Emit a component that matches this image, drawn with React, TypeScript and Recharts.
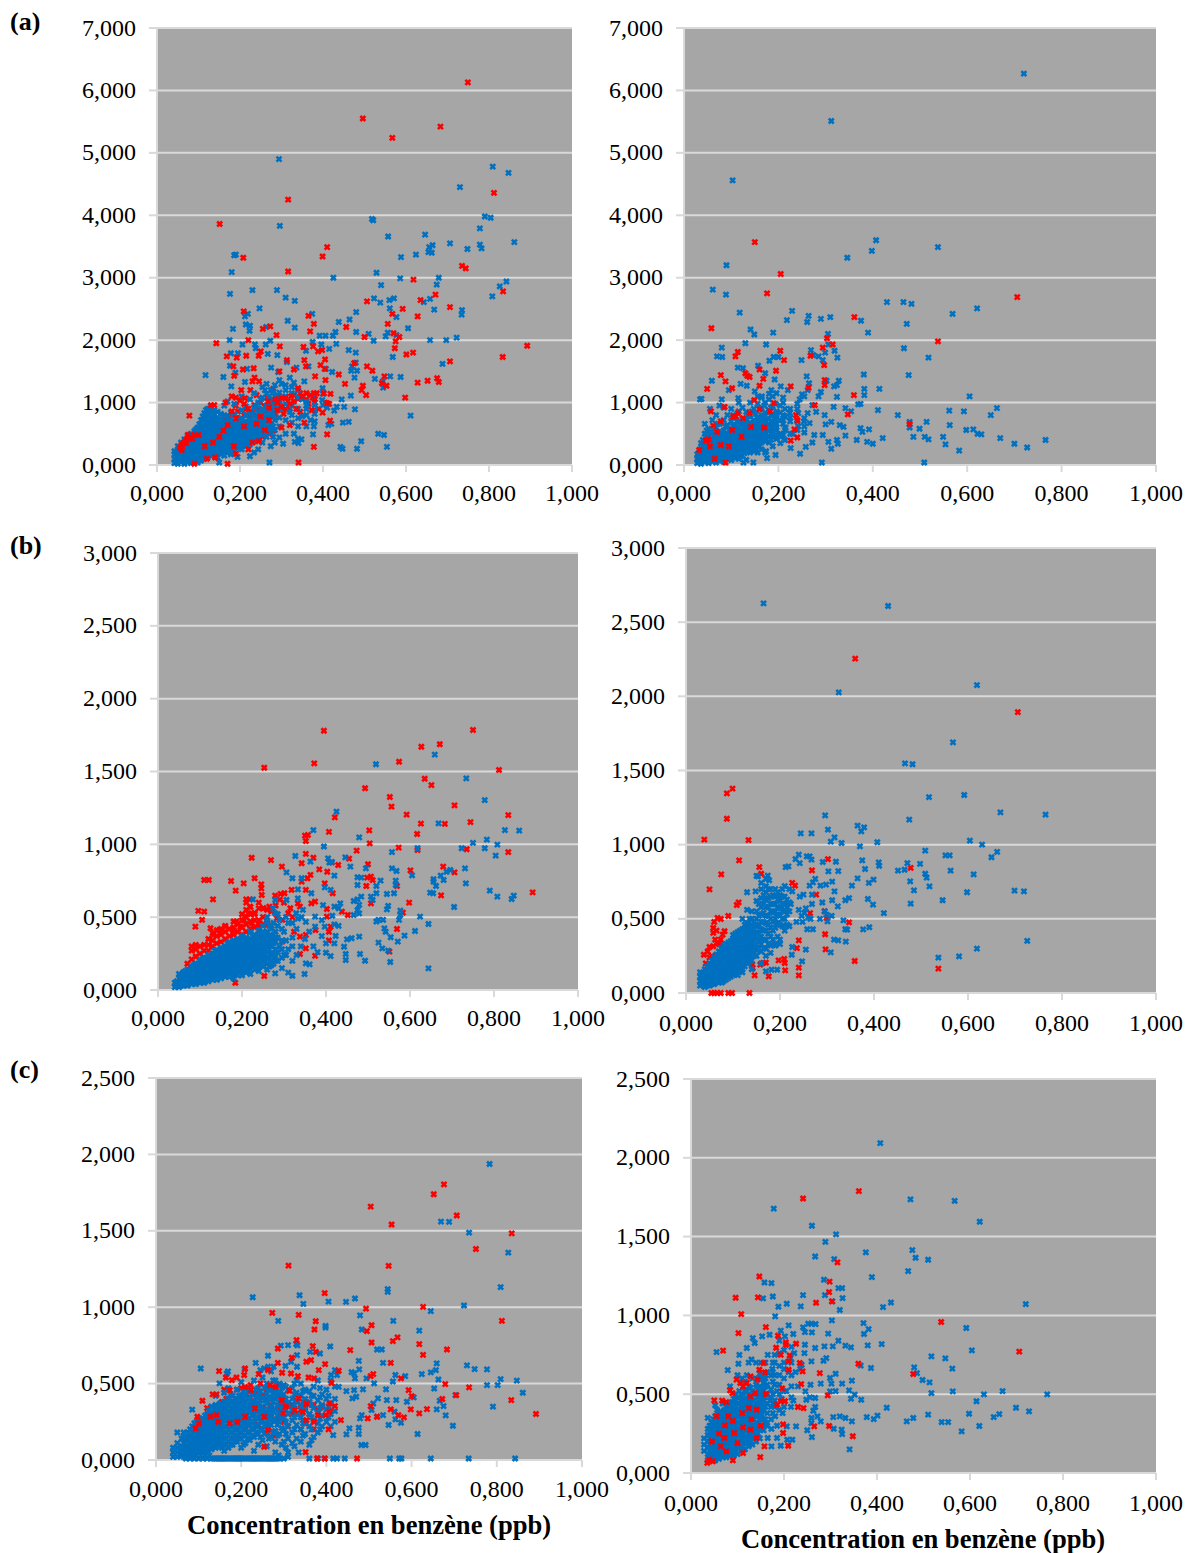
import { ScatterChart, Scatter, XAxis, YAxis, CartesianGrid } from 'recharts';

type Pt = [number, number];
type Col = [number, number[]];

const xTicks = [0, 0.2, 0.4, 0.6, 0.8, 1];
const yTicksA = [0, 1, 2, 3, 4, 5, 6, 7];
const yTicksB = [0, 0.5, 1, 1.5, 2, 2.5, 3];
const yTicksC = [0, 0.5, 1, 1.5, 2, 2.5];
const axisTitle = 'Concentration en benzène (ppb)';

// (a) gauche
const aLeftBlue: Pt[] = [[.294,4.9],[.809,4.78],[.847,4.68],[.73,4.45],[.79,3.98],[.804,3.96],[.518,3.94],[.521,3.92],[.296,3.83],[.778,3.79],[.646,3.69],[.557,3.66],[.861,3.57],[.706,3.55],[.664,3.52],[.656,3.49],[.778,3.53],[.748,3.46],[.782,3.47],[.654,3.41],[.662,3.4],[.624,3.37],[.588,3.33],[.186,3.36],[.19,3.37],[.18,3.09],[.529,3.08],[.425,3],[.586,2.99],[.679,3],[.842,2.94],[.674,2.89],[.54,2.88],[.826,2.86],[.23,2.8],[.289,2.8],[.176,2.74],[.31,2.68],[.808,2.7],[.523,2.67],[.571,2.67],[.56,2.64],[.658,2.66],[.643,2.61],[.332,2.63],[.538,2.6],[.561,2.51],[.247,2.51],[.668,2.49],[.735,2.48],[.48,2.45],[.734,2.41],[.374,2.42],[.219,2.42],[.212,2.38],[.577,2.37],[.464,2.33],[.315,2.31],[.438,2.29],[.214,2.25],[.224,2.23],[.263,2.21],[.332,2.2],[.605,2.19],[.183,2.18],[.223,2.15],[.43,2.13],[.48,2.13],[.556,2.12],[.51,2.1],[.392,2.07],[.406,2.07],[.424,2.07],[.551,2.06],[.577,2.08],[.522,1.99],[.658,2],[.697,2],[.722,2.04],[.175,2],[.273,1.99],[.206,1.93],[.236,1.93],[.262,1.93],[.432,1.94],[.375,1.97],[.415,1.86],[.238,1.87],[.396,1.93],[.462,1.84],[.359,1.83],[.479,1.8],[.178,1.79],[.195,1.79],[.267,1.78],[.29,1.76],[.568,1.73],[.688,1.62],[.479,1.64],[.47,1.58],[.313,1.65],[.176,1.59],[.365,1.58],[.336,1.56],[.275,1.56],[.407,1.54],[.217,1.54],[.482,1.51],[.468,1.51],[.189,1.48],[.422,1.49],[.117,1.44],[.476,1.4],[.587,1.41],[.562,1.42],[.16,1.41],[.292,1.49],[.212,1.33],[.525,1.38],[.355,1.34],[.544,1.34],[.545,1.24],[.399,1.23],[.179,1.26],[.467,1.11],[.398,1.04],[.445,1.05],[.477,.89],[.451,.93],[.427,.87],[.433,.93],[.611,.79],[.462,.69],[.448,.68],[.413,.64],[.42,.66],[.378,.62],[.376,.49],[.492,.38],[.533,.5],[.547,.48],[.554,.29],[.482,.26],[.442,.29],[.447,.26],[.348,.41],[.332,.37],[.341,.35],[.304,.34],[.271,.04],[.15,.04],[.36,.95],[.38,.88],[.35,.78],[.37,.72],[.34,.62],[.33,.5],[.32,.85],[.31,1.2],[.33,1.32],[.3,1.3],[.32,1.4],[.29,1.12],[.35,1.05],[.41,.92]];
const aLeftBlueCore: Col[] = [[.042,[.03,.1,.17,.22]],[.05,[.02,.09,.16,.24,.3]],[.058,[.05,.13,.21,.3,.36]],[.066,[.02,.1,.18,.26,.34,.41]],[.074,[.05,.13,.21,.29,.37,.45]],[.082,[.03,.11,.19,.27,.35,.43,.5]],[.09,[.06,.14,.22,.3,.38,.46,.54]],[.098,[.04,.12,.2,.28,.36,.44,.52,.6]],[.106,[.07,.15,.23,.31,.39,.47,.55,.63,.72]],[.114,[.1,.18,.26,.34,.42,.5,.58,.66,.74,.83]],[.122,[.12,.2,.28,.36,.44,.52,.6,.68,.76,.84,.9]],[.13,[.15,.23,.31,.39,.47,.55,.63,.71,.79,.87,.94]],[.138,[.17,.25,.33,.41,.49,.57,.65,.73,.81,.88]],[.146,[.12,.2,.28,.36,.44,.52,.6,.68,.76,.85]],[.154,[.18,.26,.34,.42,.5,.58,.66,.74,.82]],[.162,[.15,.23,.31,.39,.47,.55,.63,.71,.8,.95]],[.17,[.2,.28,.36,.44,.52,.6,.68,.78,1.02]],[.178,[.17,.25,.33,.41,.49,.57,.65,.74,.84]],[.186,[.22,.3,.38,.46,.54,.62,.7,.82,.98]],[.194,[.13,.27,.35,.43,.51,.59,.67,.76]],[.204,[.25,.33,.41,.49,.57,.65,.74,.88,1.1]],[.214,[.3,.38,.46,.54,.62,.7,.8,.94]],[.224,[.14,.33,.41,.49,.57,.65,.73,.85,1.05]],[.234,[.2,.38,.46,.54,.62,.7,.78,.92,1.15]],[.244,[.25,.42,.5,.58,.66,.74,.84,1]],[.254,[.36,.52,.6,.68,.76,.9,1.08,1.25]],[.264,[.45,.6,.7,.8,.95,1.14,1.3]],[.274,[.3,.52,.64,.78,.88,1.02,1.2]],[.284,[.36,.56,.72,.86,.98,1.1,1.28]]];
const aLeftBlueFill: Col[] = [[.054,[.06,.14,.22,.28]],[.062,[.09,.17,.25,.33]],[.07,[.06,.14,.22,.3,.38]],[.078,[.09,.17,.25,.33,.41,.48]],[.086,[.07,.15,.23,.31,.39,.47]],[.094,[.1,.18,.26,.34,.42,.5,.57]],[.102,[.08,.16,.24,.32,.4,.48,.56,.65]],[.11,[.11,.19,.27,.35,.43,.51,.59,.68,.78]],[.118,[.14,.22,.3,.38,.46,.54,.62,.7,.8,.88]],[.126,[.16,.24,.32,.4,.48,.56,.64,.72,.8,.9]],[.134,[.19,.27,.35,.43,.51,.59,.67,.75,.85]],[.142,[.16,.24,.32,.4,.48,.56,.64,.72]],[.15,[.22,.3,.38,.46,.54,.62,.7]],[.158,[.19,.27,.35,.43,.51,.59,.67]],[.166,[.24,.32,.4,.48,.56,.64]],[.174,[.21,.29,.37,.45,.53,.61,.7]],[.182,[.26,.34,.42,.5,.58,.66]],[.19,[.3,.38,.46,.54,.62]],[.2,[.29,.37,.45,.53,.61,.7]],[.21,[.34,.42,.5,.58,.66]],[.22,[.37,.45,.53,.61,.69]],[.23,[.42,.5,.58,.66,.82]],[.24,[.46,.54,.62,.7,.95]],[.25,[.48,.56,.64,.72,.86,1.05]],[.26,[.52,.66,.75,.88,1.2]],[.27,[.58,.7,.82,.95,1.1]],[.28,[.45,.62,.8,.92,1.05,1.18]],[.295,[.44,.62,.76,.9,1.02,1.16,1.36]],[.31,[.5,.72,.98,1.1,1.28]],[.325,[.68,.8,.95,1.15,1.25]],[.34,[.42,.75,.9,1.08,1.2]],[.36,[.62,.8,.9,1.02]],[.38,[.7,.82,.96,1.1]],[.4,[.96,1.14]]];
const aLeftRed: Pt[] = [[.749,6.13],[.496,5.55],[.683,5.42],[.567,5.24],[.812,4.36],[.316,4.25],[.151,3.86],[.41,3.49],[.399,3.34],[.208,3.32],[.316,3.1],[.735,3.19],[.744,3.15],[.618,2.97],[.834,2.78],[.671,2.73],[.635,2.64],[.506,2.62],[.706,2.53],[.592,2.5],[.567,2.42],[.628,2.38],[.365,2.39],[.209,2.46],[.556,2.26],[.378,2.26],[.369,2.14],[.456,2.21],[.273,2.22],[.255,2.18],[.288,2.08],[.57,2.11],[.584,2.05],[.5,2.05],[.575,1.98],[.22,2],[.143,1.95],[.892,1.91],[.573,1.87],[.617,1.8],[.601,1.77],[.833,1.73],[.706,1.66],[.296,1.9],[.353,1.89],[.376,1.9],[.398,1.84],[.388,1.82],[.675,1.39],[.679,1.33],[.652,1.35],[.628,1.32],[.506,1.58],[.519,1.51],[.548,1.42],[.542,1.31],[.553,1.27],[.496,1.27],[.493,1.2],[.504,1.12],[.598,1.08],[.453,1.3],[.438,1.45],[.475,1.63],[.405,1.69],[.404,1.54],[.406,1.36],[.381,1.42],[.355,1.68],[.313,1.68],[.359,1.58],[.394,1.6],[.33,1.53],[.295,1.5],[.168,1.74],[.192,1.72],[.215,1.75],[.245,1.75],[.25,1.82],[.186,1.43],[.184,1.58],[.233,1.55],[.207,1.53],[.235,1.4],[.23,1.34],[.246,1.34],[.378,1.15],[.36,1.15],[.34,1.23],[.323,1.1],[.309,1.07],[.285,1.05],[.299,.94],[.267,1.02],[.418,1.14],[.402,1.15],[.41,.99],[.399,.84],[.373,.88],[.336,.9],[.212,1.07],[.203,1.2],[.18,1.1],[.165,1],[.078,.79],[.074,.48],[.09,.48],[.1,.48],[.138,.96],[.13,.96],[.07,.35],[.055,.28],[.378,.29],[.41,.49],[.417,.71],[.341,.04],[.37,1.12],[.38,1.06],[.35,1.1],[.33,1.02],[.32,.98],[.3,1.08],[.29,1],[.27,.92],[.25,.78],[.24,.66],[.26,.56],[.22,.9],[.21,.98],[.2,1.03],[.19,1.08],[.18,.86],[.19,.75],[.21,.62],[.23,.36],[.245,.38],[.27,.72],[.29,.88],[.3,.6],[.32,.64],[.355,.68],[.16,.55],[.17,.64],[.15,.45],[.135,.36],[.115,.3],[.12,.1],[.14,.12],[.09,.02],[.19,.18],[.185,.3],[.22,.25],[.085,.42],[.06,.24],[.17,.02],[.06,.33],[.07,.4],[.08,.44],[.065,.36]];
const aLeftRedUnder: Pt[] = [[.26,.86],[.25,1],[.24,1.12],[.225,1.2],[.28,1.22],[.31,.9],[.345,.85],[.19,.95],[.195,.86],[.2,.72],[.21,.8],[.215,.9],[.225,.76],[.23,.84],[.235,.96],[.24,.8],[.245,.9],[.255,.7],[.26,.94],[.265,1.08],[.275,.85],[.28,.96],[.285,.8],[.295,1.05],[.3,.92],[.305,.82],[.315,1.02],[.32,.9],[.33,1.12],[.34,1.06],[.345,1.15],[.36,1.05],[.365,.98],[.375,1.08],[.38,1],[.385,1.15],[.39,.9],[.405,1],[.415,.98],[.2,.5],[.215,.42],[.235,.5],[.255,.45],[.27,.5],[.245,.55],[.28,.55],[.165,.38],[.18,.45],[.14,.22],[.13,.2],[.105,.38],[.12,.4],[.09,.3],[.075,.25],[.2,.62],[.175,.78],[.16,.72],[.15,.62]];

// (a) droite
const aRightBlue: Pt[] = [[.72,6.27],[.312,5.51],[.103,4.56],[.407,3.6],[.538,3.49],[.398,3.43],[.346,3.32],[.09,3.2],[.061,2.81],[.089,2.73],[.43,2.61],[.465,2.61],[.482,2.58],[.621,2.51],[.569,2.42],[.118,2.44],[.229,2.47],[.264,2.39],[.31,2.37],[.29,2.34],[.218,2.32],[.375,2.31],[.261,2.29],[.472,2.26],[.141,2.17],[.149,2.09],[.39,2.12],[.189,2.12],[.305,2.1],[.13,1.95],[.174,1.93],[.306,1.93],[.08,1.88],[.466,1.87],[.269,1.84],[.319,1.83],[.299,1.8],[.07,1.74],[.081,1.73],[.518,1.72],[.325,1.72],[.249,1.68],[.294,1.68],[.274,1.76],[.285,1.74],[.19,1.73],[.181,1.67],[.2,1.73],[.157,1.59],[.114,1.56],[.125,1.55],[.381,1.45],[.476,1.44],[.26,1.42],[.059,1.35],[.172,1.47],[.192,1.37],[.328,1.35],[.324,1.28],[.318,1.26],[.302,1.35],[.265,1.31],[.12,1.3],[.133,1.27],[.382,1.22],[.382,1.12],[.414,1.22],[.605,1.1],[.324,1.09],[.034,1.05],[.037,1.06],[.115,1.07],[.369,.97],[.374,.98],[.411,.88],[.562,.87],[.593,.86],[.663,.91],[.65,.8],[.453,.8],[.317,.93],[.342,.91],[.354,.86],[.478,.69],[.514,.69],[.563,.64],[.499,.58],[.598,.56],[.613,.57],[.392,.57],[.374,.59],[.378,.53],[.478,.6],[.622,.5],[.63,.49],[.549,.45],[.51,.45],[.518,.41],[.486,.45],[.421,.43],[.388,.37],[.4,.34],[.366,.4],[.554,.33],[.67,.43],[.7,.34],[.727,.28],[.766,.4],[.583,.23],[.509,.04],[.292,.04],[.147,.04],[.126,.04],[.338,.61],[.33,.64],[.342,.47],[.324,.4],[.326,.34],[.312,.26],[.306,.37],[.294,.48],[.276,.48],[.272,.36],[.258,.29],[.246,.18],[.226,.27],[.194,.16],[.176,.11],[.174,.22],[.266,.67],[.242,.62],[.254,.7],[.262,.83],[.242,.83],[.224,.83],[.28,.85],[.272,.96],[.25,1.13],[.262,1.2],[.245,1.05],[.285,1.1],[.29,1.17],[.298,.8],[.3,.65],[.312,.69],[.22,1.2],[.205,1.26],[.21,1.08],[.185,1.2],[.165,1.1],[.15,1.18],[.095,1.2],[.08,1.05],[.075,.95],[.055,.9],[.215,.6],[.23,.5],[.205,.45],[.195,.6],[.21,.72]];
const aRightBlueCore: Col[] = [[.028,[.03,.1,.17]],[.036,[.02,.1,.18,.26,.35]],[.044,[.05,.13,.21,.29,.38,.5,.66]],[.052,[.03,.11,.19,.27,.35,.46,.58]],[.06,[.06,.14,.22,.3,.38,.5,.72]],[.068,[.04,.12,.2,.28,.36,.44,.6,.8]],[.076,[.07,.15,.23,.31,.39,.48,.66]],[.084,[.05,.13,.21,.29,.37,.45,.55,.72,.92]],[.092,[.1,.18,.26,.34,.42,.5,.64,.8]],[.1,[.08,.16,.24,.32,.4,.48,.57,.7,.9]],[.108,[.12,.2,.28,.36,.44,.52,.62,.78]],[.116,[.1,.18,.26,.34,.42,.5,.58,.7,.86,1]],[.124,[.15,.23,.31,.39,.47,.55,.64,.74,.92]],[.132,[.08,.22,.3,.38,.46,.54,.62,.72,.85]],[.14,[.2,.28,.36,.44,.52,.6,.68,.8,1]],[.148,[.22,.3,.38,.46,.54,.62,.72,.9]],[.156,[.2,.34,.42,.5,.58,.66,.76,.98,1.1]],[.164,[.25,.36,.44,.52,.6,.7,.8,.92,1.08]],[.172,[.2,.38,.46,.54,.62,.72,.84,1]],[.18,[.36,.46,.56,.64,.74,.88,1.05,1.14]],[.188,[.3,.45,.58,.68,.8,.94,1.1]],[.196,[.42,.56,.66,.76,.86,1.15]],[.204,[.35,.5,.72,.84,.95]],[.214,[.4,.56,.78,.9]]];
const aRightBlueFill: Col[] = [[.032,[.06,.13,.2]],[.04,[.06,.14,.22,.3,.4]],[.048,[.07,.15,.23,.31,.42,.55]],[.056,[.07,.15,.23,.31,.39,.52]],[.064,[.08,.16,.24,.32,.42,.55]],[.072,[.08,.16,.24,.32,.4,.5,.66]],[.08,[.1,.18,.26,.34,.42,.52]],[.088,[.09,.17,.25,.33,.41,.5,.62]],[.096,[.14,.22,.3,.38,.46,.56]],[.104,[.12,.2,.28,.36,.44,.52,.62,.8]],[.112,[.15,.24,.32,.4,.48,.56,.7]],[.12,[.14,.22,.3,.38,.46,.54,.66]],[.128,[.19,.27,.35,.43,.51,.58,.68]],[.136,[.24,.32,.4,.48,.56,.66,.78]],[.144,[.26,.34,.42,.5,.58,.66,.86]],[.152,[.26,.38,.46,.54,.62,.7,.82]],[.16,[.3,.4,.48,.56,.64,.74,.9]],[.17,[.42,.5,.58,.68,.78,.95]],[.184,[.4,.5,.6,.7,.8,.92]],[.194,[.48,.62,.72,.82,.98]],[.21,[.48,.66,.8,1]],[.225,[.5,.7,.76,.9]],[.24,[.56,.7,.9,.98]],[.255,[.52,.62,.75,1.1]]];
const aRightRed: Pt[] = [[.15,3.57],[.205,3.06],[.176,2.75],[.706,2.69],[.361,2.37],[.058,2.19],[.538,1.98],[.303,2.03],[.315,1.93],[.294,1.88],[.204,1.83],[.114,1.81],[.109,1.74],[.268,1.75],[.212,1.68],[.297,1.6],[.16,1.53],[.195,1.51],[.078,1.44],[.13,1.47],[.134,1.43],[.139,1.41],[.168,1.38],[.088,1.34],[.298,1.36],[.298,1.28],[.049,1.22],[.16,1.27],[.226,1.26],[.102,1.23],[.264,1.24],[.36,1.12],[.277,.96],[.149,1.04],[.347,.81],[.237,.8],[.24,.72],[.478,.66],[.234,.57],[.24,.44],[.226,.39],[.057,.86],[.062,.63],[.086,.93],[.104,.77],[.114,.83],[.16,.89],[.139,.83],[.046,.39],[.052,.41],[.032,.24],[.07,.53],[.078,.32],[.088,.04],[.102,.56],[.122,.45],[.142,.61],[.182,.86],[.19,.99],[.065,.1],[.11,.78],[.125,.75],[.17,.6],[.095,.3],[.055,.3],[.078,.7]];

// (b) gauche
const bLeftBlue: Pt[] = [[.659,1.616],[.519,1.55],[.734,1.453],[.778,1.303],[.425,1.225],[.668,1.144],[.826,1.098],[.86,1.094],[.37,1.098],[.479,1.048],[.783,1.032],[.75,1.01],[.808,.998],[.618,.973],[.723,.973],[.778,.973],[.395,.985],[.557,.947],[.804,.922],[.327,.92],[.446,.911],[.405,.904],[.408,.875],[.414,.88],[.363,.881],[.458,.847],[.495,.835],[.557,.835],[.568,.817],[.731,.835],[.696,.824],[.687,.812],[.306,.808],[.605,.787],[.673,.785],[.68,.755],[.42,.785],[.475,.774],[.484,.771],[.656,.76],[.656,.744],[.53,.751],[.342,.767],[.32,.767],[.566,.751],[.566,.721],[.733,.732],[.475,.721],[.662,.714],[.79,.682],[.52,.714],[.52,.664],[.648,.668],[.655,.664],[.562,.664],[.545,.659],[.333,.691],[.365,.664],[.397,.705],[.411,.687],[.808,.641],[.847,.648],[.842,.625],[.484,.641],[.507,.641],[.511,.618],[.475,.622],[.466,.611],[.333,.629],[.306,.618],[.279,.618],[.226,.622],[.434,.595],[.42,.572],[.393,.583],[.548,.577],[.545,.554],[.479,.584],[.475,.549],[.705,.57],[.577,.545],[.577,.515],[.574,.481],[.479,.526],[.466,.515],[.624,.504],[.274,.561],[.279,.527],[.329,.527],[.333,.49],[.342,.5],[.352,.468],[.374,.504],[.374,.435],[.397,.435],[.525,.481],[.536,.481],[.52,.47],[.644,.453],[.539,.423],[.542,.4],[.612,.405],[.554,.362],[.587,.373],[.571,.332],[.525,.325],[.534,.286],[.548,.27],[.479,.366],[.461,.355],[.45,.348],[.423,.371],[.42,.32],[.443,.297],[.447,.247],[.447,.206],[.481,.247],[.493,.201],[.553,.192],[.644,.149],[.411,.233],[.4,.256],[.4,.32],[.352,.183],[.361,.176],[.349,.11],[.31,.119],[.32,.098],[.279,.114],[.42,.45],[.43,.44],[.415,.51],[.43,.56],[.36,.4],[.35,.35],[.37,.3],[.39,.37],[.38,.26],[.34,.3],[.33,.42],[.32,.36],[.31,.46],[.3,.4],[.29,.48],[.31,.28],[.3,.24],[.33,.24],[.28,.2],[.27,.17],[.26,.14],[.29,.3],[.28,.36],[.27,.44],[.26,.5],[.345,.55],[.39,.48]];
const bLeftBlueCore: Col[] = [[.04,[.02,.05]],[.05,[.02,.05,.08,.11]],[.06,[.03,.06,.09,.12]],[.07,[.03,.06,.09,.12,.14]],[.08,[.04,.07,.1,.13,.16]],[.09,[.04,.07,.1,.13,.16,.18]],[.1,[.05,.08,.11,.14,.17,.2]],[.11,[.05,.08,.11,.14,.17,.2,.22]],[.12,[.06,.09,.12,.15,.18,.21,.24]],[.13,[.07,.1,.13,.16,.19,.22,.25]],[.14,[.07,.1,.13,.16,.19,.22,.25,.27]],[.15,[.08,.11,.14,.17,.2,.23,.26,.29]],[.16,[.09,.12,.15,.18,.21,.24,.27,.3]],[.17,[.09,.12,.15,.18,.21,.24,.27,.3,.33]],[.18,[.08,.11,.14,.17,.2,.23,.26,.29,.32,.34]],[.19,[.1,.13,.16,.19,.22,.25,.28,.31,.35]],[.2,[.1,.13,.16,.19,.22,.25,.28,.31,.34,.37]],[.21,[.12,.15,.18,.21,.24,.27,.3,.33,.36]],[.22,[.11,.14,.17,.2,.23,.26,.29,.32,.35,.4]],[.23,[.14,.17,.2,.23,.26,.29,.32,.35,.38]],[.24,[.13,.16,.19,.22,.25,.28,.31,.34,.37,.41]],[.25,[.16,.2,.24,.28,.32,.36,.4,.44]],[.26,[.18,.22,.26,.31,.35,.4,.47]],[.27,[.2,.25,.3,.35,.42]],[.28,[.23,.28,.33,.4]]];
const bLeftBlueFill: Col[] = [[.045,[.03,.06]],[.055,[.03,.06,.09]],[.065,[.04,.07,.1,.13]],[.075,[.05,.08,.11,.14]],[.085,[.05,.08,.11,.14,.17]],[.095,[.06,.09,.12,.15,.18]],[.105,[.06,.09,.12,.15,.18,.21]],[.115,[.07,.1,.13,.16,.19,.22]],[.125,[.08,.11,.14,.17,.2,.23]],[.135,[.09,.12,.15,.18,.21,.24,.27]],[.145,[.09,.12,.15,.18,.21,.24,.27]],[.155,[.1,.13,.16,.19,.22,.25,.28]],[.165,[.11,.14,.17,.2,.23,.26,.29,.32]],[.175,[.1,.13,.16,.19,.22,.25,.28,.31]],[.185,[.12,.15,.18,.21,.24,.27,.3,.33]],[.195,[.12,.15,.18,.21,.24,.27,.3,.33]],[.205,[.14,.17,.2,.23,.26,.29,.32,.35]],[.215,[.13,.16,.19,.22,.25,.28,.31,.34]],[.225,[.16,.19,.22,.25,.28,.31,.34,.37]],[.235,[.15,.18,.21,.24,.27,.3,.33,.36]],[.245,[.18,.21,.24,.27,.3,.33,.38]],[.255,[.2,.24,.28,.32,.38]],[.265,[.16,.22,.28,.33,.37,.44]],[.275,[.18,.24,.32,.38,.46]],[.285,[.2,.26,.36,.44,.52]],[.295,[.15,.22,.28,.34,.42]],[.305,[.24,.34,.5]],[.32,[.2,.3,.46]]];
const bLeftRed: Pt[] = [[.75,1.785],[.395,1.78],[.671,1.687],[.627,1.67],[.574,1.567],[.372,1.556],[.812,1.51],[.253,1.526],[.635,1.45],[.651,1.407],[.493,1.385],[.552,1.325],[.556,1.259],[.706,1.268],[.592,1.204],[.834,1.201],[.421,1.185],[.744,1.153],[.626,1.142],[.683,1.14],[.503,1.096],[.407,1.085],[.357,1.064],[.35,1.06],[.352,1.023],[.617,1.071],[.504,1.007],[.573,.977],[.618,.961],[.735,.966],[.834,.947],[.473,.957],[.223,.908],[.269,.892],[.352,.934],[.37,.908],[.414,.876],[.429,.858],[.455,.902],[.5,.863],[.295,.847],[.384,.828],[.679,.847],[.601,.821],[.706,.808],[.342,.87],[.403,.812],[.498,.771],[.507,.778],[.511,.755],[.174,.748],[.11,.755],[.121,.755],[.23,.767],[.204,.732],[.397,.732],[.363,.79],[.356,.767],[.342,.744],[.246,.725],[.246,.698],[.496,.714],[.569,.714],[.416,.664],[.892,.67],[.674,.65],[.185,.682],[.247,.652],[.279,.648],[.292,.66],[.301,.664],[.318,.687],[.131,.622],[.21,.622],[.219,.622],[.598,.6],[.352,.687],[.374,.607],[.365,.595],[.507,.595],[.096,.543],[.11,.538],[.105,.481],[.089,.435],[.219,.572],[.215,.527],[.251,.561],[.265,.572],[.315,.561],[.31,.527],[.338,.572],[.333,.595],[.402,.556],[.402,.504],[.438,.538],[.452,.515],[.583,.531],[.569,.419],[.125,.424],[.132,.378],[.146,.412],[.16,.435],[.178,.412],[.187,.47],[.205,.48],[.196,.435],[.224,.458],[.242,.458],[.26,.451],[.411,.435],[.407,.4],[.375,.412],[.352,.378],[.338,.366],[.324,.4],[.296,.481],[.283,.492],[.296,.332],[.551,.263],[.407,.34],[.352,.286],[.374,.234],[.338,.247],[.253,.096],[.184,.05],[.28,.58],[.29,.62],[.27,.54],[.24,.6],[.23,.52],[.3,.6],[.32,.5]];
const bLeftRedCore: Col[] = [[.07,[.13,.18]],[.08,[.15,.21,.27,.3]],[.09,[.17,.23,.28,.31]],[.1,[.2,.25,.3]],[.11,[.22,.27,.31]],[.12,[.22,.27,.31,.35]],[.13,[.25,.3,.34,.39]],[.14,[.27,.32,.37,.41]],[.15,[.28,.33,.38,.42]],[.16,[.3,.35,.4,.44]],[.17,[.32,.37,.42]],[.18,[.33,.38,.43,.47]],[.19,[.35,.4,.45]],[.2,[.38,.43,.48,.52]],[.21,[.4,.45,.5,.55,.6]],[.22,[.42,.47,.52,.57]],[.23,[.43,.48,.53]],[.24,[.44,.48,.56]],[.25,[.45,.5,.56]],[.26,[.46,.55]]];

// (b) droite
const bRightBlue: Pt[] = [[.165,2.627],[.43,2.609],[.619,2.076],[.325,2.027],[.568,1.69],[.466,1.548],[.482,1.542],[.592,1.335],[.517,1.321],[.669,1.218],[.765,1.202],[.296,1.198],[.475,1.169],[.365,1.128],[.379,1.117],[.373,1.09],[.302,1.101],[.244,1.076],[.267,1.076],[.316,1.049],[.308,1.02],[.331,1.011],[.407,1.016],[.604,1.027],[.63,1],[.37,.989],[.509,.96],[.662,.951],[.552,.928],[.561,.928],[.65,.915],[.24,.933],[.257,.921],[.263,.921],[.233,.903],[.267,.899],[.242,.876],[.291,.883],[.319,.885],[.375,.894],[.41,.881],[.411,.858],[.471,.876],[.498,.87],[.303,.82],[.324,.822],[.381,.836],[.451,.825],[.465,.831],[.509,.804],[.512,.778],[.563,.825],[.612,.8],[.212,.849],[.218,.854],[.174,.791],[.153,.787],[.177,.76],[.16,.742],[.365,.773],[.399,.764],[.389,.742],[.477,.753],[.353,.724],[.518,.719],[.311,.751],[.275,.769],[.298,.731],[.286,.724],[.263,.724],[.27,.746],[.485,.692],[.598,.679],[.699,.69],[.719,.685],[.316,.685],[.226,.685],[.13,.679],[.148,.685],[.268,.663],[.25,.663],[.242,.65],[.387,.634],[.546,.625],[.347,.64],[.339,.625],[.323,.584],[.311,.625],[.398,.596],[.478,.602],[.421,.539],[.29,.61],[.268,.6],[.223,.6],[.335,.49],[.343,.427],[.339,.43],[.377,.429],[.39,.443],[.315,.36],[.324,.355],[.34,.346],[.308,.274],[.301,.483],[.299,.528],[.726,.351],[.619,.299],[.537,.238],[.581,.247],[.255,.292],[.247,.213],[.225,.258],[.226,.31],[.194,.157],[.182,.157],[.17,.146],[.27,.43],[.265,.5],[.258,.43],[.248,.48],[.24,.56],[.246,.52],[.252,.54],[.26,.51],[.255,.57],[.235,.48],[.285,.5],[.295,.55],[.31,.52],[.19,.32],[.2,.33],[.18,.27],[.17,.25],[.16,.2],[.14,.16],[.12,.14],[.11,.12],[.076,.07]];
const bRightBlueCore: Col[] = [[.03,[.05,.08,.11,.14]],[.04,[.04,.07,.1,.13,.16]],[.05,[.05,.08,.11,.14,.17,.2]],[.06,[.06,.09,.12,.15,.18,.21,.24]],[.07,[.07,.1,.13,.16,.19,.22,.25,.28]],[.08,[.08,.11,.14,.17,.2,.23,.26,.29,.32]],[.09,[.1,.13,.16,.19,.22,.25,.28,.31,.34]],[.1,[.12,.15,.18,.21,.24,.27,.3,.33,.36,.39]],[.11,[.14,.17,.2,.23,.26,.29,.32,.35,.38,.41]],[.12,[.16,.19,.22,.25,.28,.31,.34,.37,.4,.43,.5]],[.13,[.2,.23,.26,.29,.32,.35,.38,.41,.44,.47,.56]],[.14,[.22,.25,.28,.31,.34,.37,.4,.43,.46,.5,.55]],[.15,[.25,.29,.33,.37,.41,.45,.5,.55,.62,.79]],[.16,[.28,.33,.38,.43,.48,.53,.58,.64,.7]],[.17,[.3,.36,.42,.47,.52,.58,.63,.68,.72,.77]],[.18,[.32,.38,.44,.5,.55,.6,.65,.7]],[.19,[.33,.44,.5,.55,.6,.65,.7]],[.2,[.36,.46,.52,.57,.62,.66]],[.21,[.42,.5,.56,.6,.65,.72]],[.22,[.45,.55,.61,.7]]];
const bRightBlueFill: Col[] = [[.035,[.06,.09,.12]],[.045,[.05,.08,.11,.14,.18]],[.055,[.06,.09,.12,.15,.18,.22]],[.065,[.08,.11,.14,.17,.2,.23,.26]],[.075,[.09,.12,.15,.18,.21,.24,.27,.3]],[.085,[.09,.12,.15,.18,.21,.24,.27,.3,.33]],[.095,[.11,.14,.17,.2,.23,.26,.29,.32,.35]],[.105,[.13,.16,.19,.22,.25,.28,.31,.34,.37,.4]],[.115,[.15,.18,.21,.24,.27,.3,.33,.36,.39,.42]],[.125,[.18,.21,.24,.27,.3,.33,.36,.39,.42,.46]],[.135,[.21,.24,.27,.3,.33,.36,.39,.42,.45,.5]],[.145,[.25,.29,.33,.37,.41,.45,.48]],[.155,[.3,.35,.4,.46,.52,.6]],[.165,[.3,.36,.42,.48,.54,.6,.66]],[.175,[.33,.4,.46,.52,.58,.64,.7]],[.185,[.36,.42,.48,.54,.6,.66]],[.195,[.38,.47,.53,.58,.63,.68]],[.205,[.45,.5,.55,.6,.65,.7]],[.215,[.46,.53,.58,.63]]];
const bRightRed: Pt[] = [[.36,2.254],[.706,1.894],[.099,1.378],[.087,1.346],[.087,1.175],[.039,1.034],[.133,1.031],[.113,.894],[.302,.903],[.156,.849],[.478,.843],[.16,.804],[.075,.8],[.268,.827],[.226,.742],[.232,.724],[.05,.699],[.277,.663],[.112,.611],[.108,.593],[.09,.519],[.067,.506],[.074,.499],[.295,.551],[.264,.539],[.347,.476],[.299,.506],[.296,.396],[.24,.355],[.297,.294],[.236,.303],[.359,.216],[.537,.164],[.24,.171],[.24,.119],[.197,.22],[.209,.229],[.21,.202],[.211,.153],[.164,.202],[.17,.205],[.158,.191],[.141,.191],[.142,.169],[.146,.119],[.176,.112],[.126,.207],[.114,.169],[.098,.202],[.054,0],[.06,0],[.066,0],[.074,0],[.09,0],[.098,0],[.135,0],[.084,.1],[.094,.124],[.058,.438],[.058,.405],[.062,.36],[.082,.416],[.078,.393],[.05,.31],[.038,.258],[.046,.28],[.058,.315],[.066,.337],[.074,.36],[.06,.48],[.065,.42],[.07,.33],[.055,.25],[.042,.2],[.05,.24]];

// (c) gauche
const cLeftBlue: Pt[] = [[.783,1.937],[.669,1.56],[.688,1.558],[.735,1.488],[.827,1.357],[.809,1.131],[.544,1.118],[.544,1.1],[.337,1.078],[.227,1.065],[.346,1.022],[.405,1.037],[.446,1.035],[.467,1.057],[.723,1.011],[.645,.974],[.479,.946],[.287,.911],[.557,.911],[.398,.878],[.398,.867],[.483,.854],[.618,.847],[.293,.749],[.31,.752],[.329,.758],[.332,.75],[.409,.743],[.519,.723],[.53,.723],[.362,.708],[.385,.697],[.263,.682],[.533,.636],[.659,.632],[.73,.619],[.234,.636],[.331,.686],[.317,.643],[.304,.615],[.331,.61],[.208,.593],[.476,.649],[.477,.593],[.459,.575],[.465,.566],[.467,.534],[.748,.595],[.777,.593],[.657,.588],[.645,.573],[.105,.599],[.166,.566],[.169,.58],[.245,.588],[.254,.6],[.263,.61],[.276,.61],[.562,.556],[.585,.549],[.624,.562],[.663,.527],[.42,.588],[.411,.556],[.425,.556],[.494,.534],[.556,.514],[.512,.501],[.149,.501],[.847,.519],[.809,.529],[.777,.49],[.802,.49],[.653,.468],[.54,.462],[.486,.462],[.429,.479],[.447,.451],[.465,.457],[.47,.414],[.461,.403],[.861,.44],[.703,.425],[.605,.41],[.589,.381],[.521,.403],[.51,.37],[.542,.392],[.564,.392],[.666,.388],[.675,.353],[.659,.331],[.791,.349],[.68,.292],[.697,.224],[.614,.17],[.575,.244],[.562,.266],[.546,.229],[.56,.316],[.533,.294],[.519,.283],[.506,.327],[.483,.294],[.479,.272],[.476,.211],[.476,.17],[.447,.168],[.454,.207],[.416,.163],[.482,.098],[.492,.098],[.396,.01],[.416,.01],[.425,.01],[.443,.01],[.549,.01],[.571,.01],[.576,.01],[.645,.01],[.734,.01],[.843,.01],[.38,.01],[.36,.01],[.335,.05],[.31,.05],[.288,.03],[.085,.33],[.065,.18],[.05,.18]];
const cLeftBlueCore: Col[] = [[.04,[.02,.05,.08]],[.05,[.02,.05,.08,.11]],[.06,[.03,.06,.09,.14]],[.07,[.01,.04,.07,.1,.13,.17]],[.08,[.01,.04,.07,.1,.13,.16,.2]],[.09,[.01,.05,.08,.11,.14,.17,.2,.24]],[.1,[.01,.05,.08,.11,.14,.17,.2,.23,.27]],[.11,[.01,.06,.09,.12,.15,.18,.21,.24,.27]],[.12,[.01,.06,.09,.12,.15,.18,.21,.24,.27,.3]],[.13,[.01,.07,.1,.13,.16,.19,.22,.25,.28,.31,.35]],[.14,[.01,.08,.11,.14,.17,.2,.23,.26,.29,.32,.36,.42]],[.15,[.01,.09,.12,.15,.18,.21,.24,.27,.3,.33,.37]],[.16,[.01,.06,.1,.14,.18,.22,.26,.3,.34,.38,.44]],[.17,[.01,.08,.12,.16,.2,.24,.28,.32,.36,.4,.47]],[.18,[.01,.1,.14,.18,.22,.26,.3,.34,.38,.42]],[.19,[.01,.12,.16,.2,.24,.28,.32,.36,.4,.46]],[.2,[.01,.08,.14,.18,.22,.26,.3,.34,.38,.42,.51]],[.21,[.01,.11,.16,.2,.25,.3,.34,.38,.42]],[.22,[.01,.13,.18,.23,.27,.31,.35,.4,.46]],[.23,[.01,.06,.15,.2,.25,.3,.34,.38,.44,.52]],[.24,[.01,.1,.17,.22,.27,.32,.36,.42,.47]],[.25,[.01,.13,.2,.26,.31,.35,.41,.54]],[.26,[.01,.09,.18,.24,.3,.37,.43,.5]],[.27,[.01,.15,.23,.29,.35,.41,.47,.58]],[.28,[.01,.05,.12,.19,.26,.33,.4,.46,.52]],[.29,[.01,.17,.25,.31,.38,.44,.5]],[.3,[.01,.12,.2,.28,.36,.43,.49]],[.31,[.02,.14,.22,.3,.37,.46]],[.32,[.11,.18,.26,.33,.4,.47]],[.33,[.14,.23,.3,.38,.44,.52]],[.34,[.12,.2,.28,.35,.42,.5]],[.35,[.17,.25,.33,.4,.46]],[.36,[.1,.22,.3,.38,.45]],[.37,[.15,.26,.34,.42,.48]],[.38,[.18,.24,.31,.39,.52]],[.39,[.22,.29,.36,.43]],[.4,[.25,.33,.4,.46]],[.41,[.22,.3,.37,.52]],[.42,[.25,.32,.4,.48]]];
const cLeftBlueFill: Col[] = [[.065,[.02,.05,.08,.11,.15]],[.075,[.02,.05,.08,.11,.14,.18]],[.085,[.02,.06,.09,.12,.15,.18,.22]],[.095,[.03,.06,.09,.12,.15,.18,.22,.25]],[.105,[.03,.07,.1,.13,.16,.19,.22,.25]],[.115,[.03,.07,.1,.13,.16,.19,.22,.25,.29]],[.125,[.03,.08,.11,.14,.17,.2,.23,.26,.29,.33]],[.135,[.01,.09,.12,.15,.18,.21,.24,.27,.3,.33]],[.145,[.01,.1,.13,.16,.19,.22,.25,.28,.31,.35]],[.155,[.01,.08,.12,.16,.2,.24,.28,.32,.36]],[.165,[.01,.1,.14,.18,.22,.26,.3,.34,.38]],[.175,[.01,.1,.14,.18,.22,.26,.3,.34,.38,.43]],[.185,[.01,.12,.16,.2,.24,.28,.32,.36,.4]],[.195,[.01,.14,.18,.22,.26,.3,.34,.38,.42]],[.205,[.01,.1,.16,.2,.24,.28,.32,.36,.4,.45]],[.215,[.01,.14,.18,.23,.27,.32,.36,.4,.45]],[.225,[.01,.16,.21,.25,.29,.33,.38,.43]],[.235,[.01,.18,.23,.28,.32,.36,.41,.46]],[.245,[.01,.15,.2,.25,.3,.34,.39,.45]],[.255,[.01,.17,.23,.28,.33,.39,.47]],[.265,[.01,.14,.21,.27,.33,.4,.46]],[.275,[.01,.18,.26,.32,.38,.44,.52]],[.285,[.01,.16,.23,.29,.36,.43,.49]],[.295,[.1,.21,.28,.34,.41,.47]],[.305,[.08,.17,.25,.33,.4,.48]],[.325,[.09,.2,.28,.36,.43,.5]],[.345,[.16,.24,.31,.38,.45]],[.365,[.13,.2,.28,.36,.42]],[.385,[.2,.27,.34,.41,.47]],[.405,[.28,.35,.42]]];
const cLeftRed: Pt[] = [[.676,1.804],[.652,1.739],[.504,1.658],[.706,1.6],[.553,1.541],[.835,1.483],[.751,1.381],[.311,1.272],[.546,1.27],[.396,1.092],[.627,1.002],[.493,.991],[.273,.963],[.335,.95],[.812,.911],[.375,.908],[.506,.882],[.372,.854],[.495,.843],[.567,.802],[.556,.778],[.506,.769],[.618,.758],[.33,.784],[.368,.745],[.286,.73],[.456,.719],[.683,.723],[.375,.708],[.627,.688],[.319,.669],[.364,.654],[.353,.643],[.397,.627],[.551,.636],[.286,.636],[.382,.588],[.429,.584],[.209,.599],[.148,.582],[.263,.588],[.241,.562],[.333,.549],[.317,.566],[.296,.571],[.504,.549],[.51,.562],[.575,.534],[.358,.54],[.371,.534],[.412,.505],[.679,.497],[.735,.475],[.593,.457],[.6,.418],[.705,.425],[.672,.399],[.834,.392],[.892,.301],[.636,.333],[.618,.305],[.598,.331],[.582,.279],[.569,.294],[.551,.331],[.504,.353],[.497,.272],[.519,.283],[.109,.388],[.133,.429],[.142,.429],[.164,.54],[.178,.523],[.189,.54],[.207,.556],[.173,.457],[.209,.479],[.223,.457],[.245,.501],[.268,.49],[.281,.479],[.313,.453],[.42,.353],[.407,.37],[.398,.294],[.407,.316],[.38,.294],[.371,.25],[.353,.37],[.344,.316],[.335,.403],[.326,.327],[.304,.349],[.295,.392],[.299,.305],[.353,.261],[.434,.261],[.405,.2],[.351,.052],[.378,.01],[.396,.01],[.472,.01],[.097,.283],[.101,.24],[.093,.207],[.128,.283],[.142,.294],[.146,.25],[.173,.24],[.191,.25],[.209,.283],[.232,.338],[.254,.283],[.263,.196],[.254,.087]];
const cLeftRedUnder: Pt[] = [[.155,.38],[.165,.4],[.2,.47],[.215,.47],[.222,.49],[.235,.37],[.25,.34],[.27,.3],[.285,.27],[.32,.36],[.33,.3],[.34,.36],[.345,.26],[.36,.3],[.37,.36],[.34,.2],[.31,.22],[.295,.35],[.15,.3],[.12,.34],[.11,.27],[.09,.17],[.21,.2],[.24,.23],[.19,.16],[.16,.46],[.19,.46],[.2,.4],[.22,.41],[.24,.45],[.26,.46],[.28,.44],[.29,.42],[.3,.38],[.31,.35],[.32,.3],[.34,.33],[.35,.34],[.36,.38],[.38,.33],[.39,.35],[.41,.32],[.33,.39],[.29,.33],[.27,.36],[.25,.42],[.23,.3],[.21,.3],[.2,.26],[.18,.3],[.16,.28],[.14,.34],[.13,.27],[.12,.22],[.11,.2],[.1,.22],[.35,.24],[.37,.2],[.3,.25],[.28,.16]];

// (c) droite
const cRightBlue: Pt[] = [[.407,2.093],[.472,1.736],[.567,1.727],[.178,1.677],[.621,1.594],[.26,1.569],[.312,1.514],[.289,1.467],[.476,1.414],[.376,1.4],[.267,1.374],[.483,1.366],[.51,1.353],[.308,1.357],[.467,1.281],[.389,1.243],[.286,1.226],[.158,1.209],[.173,1.205],[.317,1.173],[.325,1.173],[.72,1.072],[.43,1.082],[.241,1.129],[.288,1.129],[.176,1.12],[.155,1.108],[.326,1.11],[.304,1.089],[.206,1.074],[.188,1.055],[.236,1.057],[.413,1.053],[.32,1.034],[.181,.994],[.303,.968],[.371,.951],[.592,.92],[.382,.913],[.372,.882],[.252,.947],[.259,.947],[.268,.945],[.241,.924],[.26,.892],[.245,.894],[.21,.937],[.22,.882],[.193,.903],[.202,.867],[.295,.884],[.133,.856],[.153,.867],[.169,.877],[.137,.825],[.12,.793],[.317,.839],[.41,.818],[.38,.81],[.332,.808],[.344,.797],[.245,.814],[.267,.793],[.287,.803],[.305,.803],[.604,.778],[.244,.761],[.222,.761],[.214,.729],[.055,.767],[.104,.75],[.517,.74],[.547,.727],[.291,.729],[.285,.712],[.259,.708],[.238,.687],[.365,.681],[.387,.666],[.48,.67],[.562,.662],[.486,.634],[.102,.693],[.079,.653],[.498,.59],[.513,.575],[.346,.586],[.325,.567],[.311,.63],[.299,.603],[.302,.567],[.279,.567],[.257,.56],[.34,.524],[.311,.52],[.299,.518],[.517,.507],[.563,.518],[.63,.499],[.67,.52],[.766,.499],[.352,.497],[.344,.471],[.366,.465],[.614,.455],[.246,.518],[.248,.465],[.267,.476],[.256,.48],[.699,.414],[.421,.414],[.267,.419],[.263,.395],[.727,.391],[.598,.376],[.663,.374],[.651,.355],[.51,.37],[.401,.364],[.378,.355],[.393,.342],[.478,.349],[.464,.328],[.539,.323],[.553,.323],[.346,.328],[.332,.349],[.32,.359],[.306,.355],[.279,.328],[.259,.349],[.272,.359],[.259,.317],[.62,.298],[.226,.296],[.206,.296],[.582,.264],[.307,.281],[.324,.275],[.325,.247],[.25,.271],[.26,.228],[.341,.15],[.218,.211],[.193,.173],[.207,.211],[.185,.222],[.173,.169],[.165,.222],[.197,.38],[.181,.36],[.185,.3],[.173,.28],[.161,.31],[.22,.46],[.23,.55],[.21,.64],[.2,.7],[.19,.62],[.185,.52],[.175,.66],[.165,.75],[.16,.6],[.17,.46],[.155,.52],[.225,.64],[.235,.66],[.205,.52],[.215,.42],[.195,.47],[.18,.75],[.15,.7],[.14,.7],[.13,.72],[.12,.62],[.11,.6]];
const cRightBlueCore: Col[] = [[.028,[.14,.18,.22]],[.036,[.08,.12,.16,.2,.24,.28,.35]],[.044,[.08,.12,.16,.2,.24,.28,.32]],[.052,[.08,.12,.16,.2,.24,.28,.32,.36,.43]],[.06,[.09,.13,.17,.21,.25,.29,.33,.37]],[.068,[.1,.14,.18,.22,.26,.3,.34,.38,.44]],[.076,[.1,.14,.18,.22,.26,.3,.34,.38,.42]],[.084,[.11,.15,.19,.23,.27,.31,.35,.39,.43,.55]],[.092,[.11,.15,.19,.23,.27,.31,.35,.39,.43,.47]],[.1,[.12,.16,.2,.24,.28,.32,.36,.4,.44,.48,.62]],[.108,[.14,.18,.22,.26,.3,.34,.38,.42,.46,.5]],[.116,[.15,.19,.23,.27,.31,.35,.39,.43,.47,.52,.58]],[.124,[.17,.21,.25,.29,.33,.37,.41,.45,.5,.55,.7]],[.132,[.18,.22,.26,.3,.34,.38,.42,.46,.52,.6]],[.14,[.2,.24,.28,.32,.36,.4,.44,.5,.56]],[.148,[.22,.28,.34,.4,.45,.5,.55,.63]],[.156,[.27,.34,.4,.46,.52,.57]],[.164,[.3,.38,.44,.5,.56,.64]],[.172,[.34,.42,.48,.53,.62]],[.18,[.42,.46,.56,.62,.7]]];
const cRightBlueFill: Col[] = [[.04,[.1,.14,.18,.22,.26,.3]],[.048,[.1,.14,.18,.22,.26,.3,.34]],[.056,[.1,.14,.18,.22,.26,.3,.34,.4]],[.064,[.11,.15,.19,.23,.27,.31,.35,.39]],[.072,[.12,.16,.2,.24,.28,.32,.36,.4]],[.08,[.12,.16,.2,.24,.28,.32,.36,.4,.44]],[.088,[.13,.17,.21,.25,.29,.33,.37,.41,.45]],[.096,[.14,.18,.22,.26,.3,.34,.38,.42,.46,.5]],[.104,[.16,.2,.24,.28,.32,.36,.4,.44,.48,.52]],[.112,[.17,.21,.25,.29,.33,.37,.41,.45,.49,.55]],[.12,[.19,.23,.27,.31,.35,.39,.43,.47,.52]],[.128,[.2,.24,.28,.32,.36,.4,.44,.48,.54]],[.136,[.22,.26,.3,.34,.38,.42,.46,.5]],[.144,[.25,.31,.37,.43,.48,.53,.6]],[.152,[.3,.37,.43,.49,.54,.6]],[.16,[.34,.42,.48,.55,.62,.7]],[.176,[.38,.44,.5,.58,.64,.7]],[.19,[.4,.5,.56,.68,.76,.84]],[.2,[.42,.52,.6,.66,.78]],[.216,[.48,.55,.62,.7,.8]]];
const cRightRed: Pt[] = [[.361,1.789],[.241,1.742],[.147,1.247],[.315,1.336],[.298,1.214],[.297,1.148],[.096,1.112],[.144,1.114],[.269,1.08],[.303,1.089],[.108,1.008],[.538,.958],[.102,.888],[.161,.926],[.187,.871],[.069,.776],[.706,.77],[.226,.82],[.204,.829],[.204,.814],[.183,.795],[.193,.75],[.212,.746],[.156,.698],[.21,.708],[.234,.698],[.36,.693],[.21,.655],[.24,.645],[.478,.628],[.277,.634],[.147,.655],[.159,.638],[.128,.613],[.143,.592],[.12,.571],[.237,.564],[.196,.537],[.098,.592],[.106,.571],[.112,.55],[.084,.524],[.089,.507],[.138,.507],[.161,.501],[.128,.486],[.294,.493],[.05,.461],[.067,.459],[.076,.45],[.202,.455],[.193,.455],[.185,.433],[.23,.419],[.242,.412],[.141,.402],[.124,.412],[.198,.309],[.265,.296],[.297,.298],[.073,.302],[.112,.29],[.128,.275],[.093,.254],[.072,.222],[.198,.254],[.348,.233],[.141,.222],[.158,.169],[.209,.173],[.149,.101],[.112,.127],[.09,.08],[.047,.074],[.035,.064],[.039,.085],[.076,.137],[.1,.19],[.064,.169],[.06,.25],[.045,.2],[.09,.33],[.11,.38],[.13,.34],[.15,.3],[.08,.36],[.055,.36]];

const flat = (cols: Col[]) => cols.flatMap(([x, ys]) => ys.map((y): Pt => [x, y]));
const rows = (pts: Pt[]) => pts.map(([x, y]) => ({ x, y }));

const BLUE = '#0070c0';
const RED = '#ff0000';
const GRID = '#d9d9d9';

const fmt = (v: number) => v.toFixed(3).replace('.', ',');

const Mark = (p: any, color: string) => (
  <path
    d={`M${p.cx - 2.5},${p.cy - 2.5}L${p.cx + 2.5},${p.cy + 2.5}M${p.cx - 2.5},${p.cy + 2.5}L${p.cx + 2.5},${p.cy - 2.5}`}
    stroke={color}
    strokeWidth={2.6}
    fill="none"
  />
);

const Panel = ({ x0, x1, y0, y1, yMax, yTicks, blue, red, redUnder, blueOnTop, gap }: any) => {
  const yw = 80;
  const xh = 46;
  const top = 16;
  const right = 32;
  const tick = { fontFamily: '"Liberation Serif", serif', fontSize: 24, fill: '#000' };
  const blueSeries = <Scatter data={rows(blue)} isAnimationActive={false} shape={(p: any) => Mark(p, BLUE)} />;
  const redSeries = <Scatter data={rows(red)} isAnimationActive={false} shape={(p: any) => Mark(p, RED)} />;
  const underSeries = redUnder ? <Scatter data={rows(redUnder)} isAnimationActive={false} shape={(p: any) => Mark(p, RED)} /> : null;
  return (
    <div style={{ position: 'absolute', left: x0 - yw, top: y0 - top }}>
      <ScatterChart
        width={x1 - x0 + yw + right}
        height={y1 - y0 + top + xh}
        margin={{ top, right, bottom: 0, left: 0 }}
      >
        <CartesianGrid vertical={false} fill="#a6a6a6" stroke={GRID} strokeWidth={2} />
        <XAxis
          type="number"
          dataKey="x"
          domain={[0, 1]}
          ticks={xTicks}
          interval={0}
          height={xh}
          tick={tick}
          tickFormatter={fmt}
          tickSize={7}
          tickMargin={gap}
          stroke={GRID}
          strokeWidth={2}
        />
        <YAxis
          type="number"
          dataKey="y"
          domain={[0, yMax]}
          ticks={yTicks}
          interval={0}
          width={yw}
          tick={{ ...tick, dy: -1 }}
          tickFormatter={fmt}
          tickSize={8}
          tickMargin={13}
          stroke={GRID}
          strokeWidth={2}
        />
        {underSeries}
        {blueOnTop ? redSeries : blueSeries}
        {blueOnTop ? blueSeries : redSeries}
      </ScatterChart>
    </div>
  );
};

const labelStyle = {
  position: 'absolute',
  fontFamily: '"Liberation Serif", serif',
  fontWeight: 'bold',
  whiteSpace: 'nowrap',
  color: '#000',
} as const;

export default function App() {
  return (
    <div style={{ position: 'absolute', left: 0, top: 0, width: 1192, height: 1553, background: '#fff', overflow: 'hidden' }}>
      <Panel x0={157} x1={572} y0={28} y1={465} gap={12} yMax={7} yTicks={yTicksA} blue={[...aLeftBlue, ...flat(aLeftBlueCore), ...flat(aLeftBlueFill)]} red={aLeftRed} redUnder={aLeftRedUnder} />
      <Panel x0={684} x1={1156} y0={28} y1={465} gap={12} yMax={7} yTicks={yTicksA} blue={[...aRightBlue, ...flat(aRightBlueCore), ...flat(aRightBlueFill)]} red={aRightRed} />
      <Panel x0={158} x1={578} y0={553} y1={990} gap={12} yMax={3} yTicks={yTicksB} blue={[...bLeftBlue, ...flat(bLeftBlueCore), ...flat(bLeftBlueFill)]} red={[...bLeftRed, ...flat(bLeftRedCore)]} blueOnTop />
      <Panel x0={686} x1={1156} y0={548} y1={993} gap={14} yMax={3} yTicks={yTicksB} blue={[...bRightBlue, ...flat(bRightBlueCore), ...flat(bRightBlueFill)]} red={bRightRed} blueOnTop />
      <Panel x0={156} x1={582} y0={1078} y1={1460} gap={13} yMax={2.5} yTicks={yTicksC} blue={[...cLeftBlue, ...flat(cLeftBlueCore), ...flat(cLeftBlueFill)]} red={cLeftRed} redUnder={cLeftRedUnder} />
      <Panel x0={691} x1={1156} y0={1079} y1={1473} gap={14} yMax={2.5} yTicks={yTicksC} blue={[...cRightBlue, ...flat(cRightBlueCore), ...flat(cRightBlueFill)]} red={cRightRed} />

      <div style={{ ...labelStyle, left: 10, top: 7, fontSize: 26 }}>(a)</div>
      <div style={{ ...labelStyle, left: 10, top: 531, fontSize: 26 }}>(b)</div>
      <div style={{ ...labelStyle, left: 10, top: 1055, fontSize: 26 }}>(c)</div>
      <div style={{ ...labelStyle, left: 187, top: 1510, fontSize: 26.6 }}>{axisTitle}</div>
      <div style={{ ...labelStyle, left: 741, top: 1524, fontSize: 26.6 }}>{axisTitle}</div>
    </div>
  );
}
